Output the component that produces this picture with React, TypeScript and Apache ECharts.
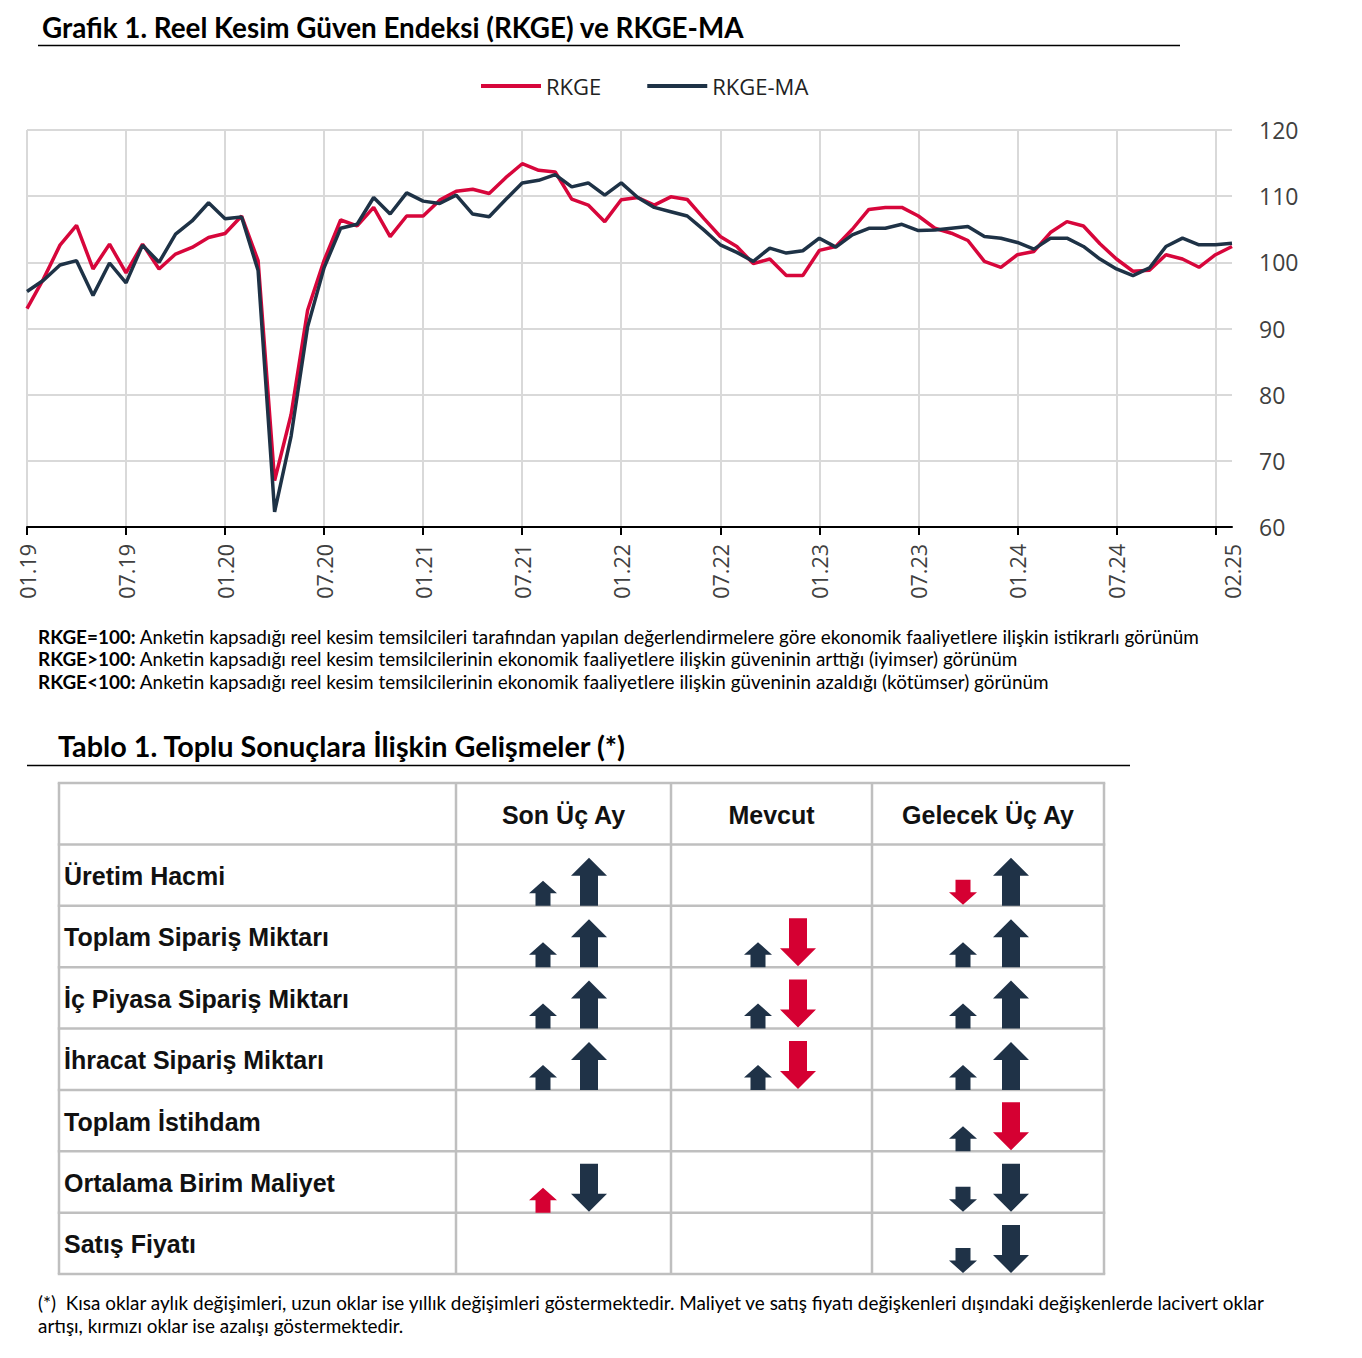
import React, { useEffect, useRef } from "react";
import * as echarts from "echarts";

const months = [
  "01.19","02.19","03.19","04.19","05.19","06.19","07.19","08.19","09.19","10.19","11.19","12.19",
  "01.20","02.20","03.20","04.20","05.20","06.20","07.20","08.20","09.20","10.20","11.20","12.20",
  "01.21","02.21","03.21","04.21","05.21","06.21","07.21","08.21","09.21","10.21","11.21","12.21",
  "01.22","02.22","03.22","04.22","05.22","06.22","07.22","08.22","09.22","10.22","11.22","12.22",
  "01.23","02.23","03.23","04.23","05.23","06.23","07.23","08.23","09.23","10.23","11.23","12.23",
  "01.24","02.24","03.24","04.24","05.24","06.24","07.24","08.24","09.24","10.24","11.24","12.24",
  "01.25","02.25",
];

const rkge = [
  93.0, 97.5, 102.6, 105.6, 99.0, 102.75, 98.4, 102.75, 99.0, 101.25, 102.25, 103.75,
  104.35, 107.0, 100.25, 67.0, 77.0, 92.75, 100.3, 106.4, 105.5, 108.3, 103.9, 107.0,
  107.0, 109.4, 110.75, 111.05, 110.4, 112.8, 114.9, 113.9, 113.65, 109.55, 108.65, 106.15,
  109.45, 109.8, 108.65, 109.9, 109.5, 106.65, 103.9, 102.4, 99.8, 100.5, 98.0, 98.0,
  101.8, 102.4, 105.0, 108.0, 108.3, 108.3, 107.0, 105.15, 104.4, 103.3, 100.15, 99.25,
  101.15, 101.65, 104.5, 106.15, 105.5, 102.8, 100.5, 98.65, 98.8, 101.15, 100.5, 99.25,
  101.15, 102.4,
];

const rkgeMa = [
  95.6, 97.3, 99.6, 100.25, 95.0, 99.9, 96.9, 102.6, 100.0, 104.25, 106.25, 109.0,
  106.6, 106.85, 98.75, 62.3, 73.75, 90.25, 99.2, 105.15, 105.75, 109.8, 107.3, 110.5,
  109.25, 108.9, 110.15, 107.3, 106.9, 109.5, 112.0, 112.4, 113.25, 111.4, 112.0, 110.15,
  112.0, 109.8, 108.3, 107.65, 107.0, 104.9, 102.65, 101.5, 100.15, 102.15, 101.4, 101.75,
  103.65, 102.3, 104.15, 105.15, 105.15, 105.75, 104.8, 104.9, 105.15, 105.4, 103.9, 103.65,
  103.0, 102.0, 103.65, 103.65, 102.4, 100.5, 99.0, 98.0, 99.15, 102.4, 103.65, 102.65,
  102.65, 102.9,
];

const seriesNames = ["RKGE", "RKGE-MA"];

const chartTitle = "Grafik 1. Reel Kesim Güven Endeksi (RKGE) ve RKGE-MA";
const notes = [
  ["RKGE=100:", " Anketin kapsadığı reel kesim temsilcileri tarafından yapılan değerlendirmelere göre ekonomik faaliyetlere ilişkin istikrarlı görünüm"],
  ["RKGE>100:", " Anketin kapsadığı reel kesim temsilcilerinin ekonomik faaliyetlere ilişkin güveninin arttığı (iyimser) görünüm"],
  ["RKGE<100:", " Anketin kapsadığı reel kesim temsilcilerinin ekonomik faaliyetlere ilişkin güveninin azaldığı (kötümser) görünüm"],
];

const tableTitle = "Tablo 1. Toplu Sonuçlara İlişkin Gelişmeler (*)";
const tableColumns = ["Son Üç Ay", "Mevcut", "Gelecek Üç Ay"];
const tableRows = [
  "Üretim Hacmi",
  "Toplam Sipariş Miktarı",
  "İç Piyasa Sipariş Miktarı",
  "İhracat Sipariş Miktarı",
  "Toplam İstihdam",
  "Ortalama Birim Maliyet",
  "Satış Fiyatı",
];
// [short arrow, long arrow]; U/D = up/down, N/R = navy/red
const sonUcAy = [["UN", "UN"], ["UN", "UN"], ["UN", "UN"], ["UN", "UN"], null, ["UR", "DN"], null];
const mevcut = [null, ["UN", "DR"], ["UN", "DR"], ["UN", "DR"], null, null, null];
const gelecekUcAy = [["DR", "UN"], ["UN", "UN"], ["UN", "UN"], ["UN", "UN"], ["UN", "DR"], ["DN", "DN"], ["DN", "DN"]];
const tableArrows = [sonUcAy, mevcut, gelecekUcAy];

const footnote = [
  "(*)  Kısa oklar aylık değişimleri, uzun oklar ise yıllık değişimleri göstermektedir. Maliyet ve satış fiyatı değişkenleri dışındaki değişkenlerde lacivert oklar",
  "artışı, kırmızı oklar ise azalışı göstermektedir.",
];

const RED = "#d7063b";
const NAVY = "#1e3246";
const ARROW_RED = "#d50032";
const ARROW_NAVY = "#1f3247";
const CALIBRI = "Lato, 'Open Sans', sans-serif";
const ARIAL = "'Liberation Sans', Arial, sans-serif";

function text(x: number, y: number, t: string, o: any = {}) {
  const align = o.align || "left";
  return {
    type: "text",
    x,
    y,
    silent: true,
    style: {
      text: t,
      fill: o.fill || "#000",
      fontSize: o.fontSize || 17,
      fontFamily: o.fontFamily || CALIBRI,
      fontWeight: o.fontWeight || "normal",
      align,
      textAlign: align,
      verticalAlign: "middle",
      textVerticalAlign: "middle",
      rich: o.rich,
    },
  };
}

function hline(x1: number, x2: number, y: number, stroke: string, lw: number) {
  return { type: "line", silent: true, shape: { x1, y1: y, x2, y2: y }, style: { stroke, lineWidth: lw } };
}
function vline(x: number, y1: number, y2: number, stroke: string, lw: number) {
  return { type: "line", silent: true, shape: { x1: x, y1, x2: x, y2 }, style: { stroke, lineWidth: lw } };
}

function arrow(code: string, cx: number, rowBottom: number, big: boolean) {
  const H = big ? 48 : 25;
  const h = big ? 18 : 12.5;
  const W = big ? 36 : 28;
  const w = big ? 18 : 15;
  const up = code[0] === "U";
  const fill = code[1] === "R" ? ARROW_RED : ARROW_NAVY;
  let pts: number[][];
  if (up) {
    const b = rowBottom;
    const t = b - H;
    pts = [
      [cx - w / 2, b], [cx - w / 2, t + h], [cx - W / 2, t + h], [cx, t],
      [cx + W / 2, t + h], [cx + w / 2, t + h], [cx + w / 2, b],
    ];
  } else {
    const b = rowBottom - 1;
    const t = b - H;
    pts = [
      [cx - w / 2, t], [cx - w / 2, b - h], [cx - W / 2, b - h], [cx, b],
      [cx + W / 2, b - h], [cx + w / 2, b - h], [cx + w / 2, t],
    ];
  }
  return { type: "polygon", silent: true, shape: { points: pts }, style: { fill } };
}

function buildGraphics() {
  const els: any[] = [];
  // Chart title
  els.push(text(42, 27, chartTitle, { fontSize: 27.8, fontWeight: "bold" }));
  els.push(hline(38, 1180, 45.5, "#000", 1.5));
  // Notes
  const noteY = [636, 658.5, 681];
  notes.forEach((n, i) => {
    els.push(text(38, noteY[i], `{b|${n[0]}}${n[1]}`, {
      fontSize: 18.9,
      rich: { b: { fontWeight: "bold", fontSize: 18.9, fontFamily: CALIBRI, fill: "#000" } },
    }));
  });
  // Table title
  els.push(text(58, 746, tableTitle, { fontSize: 28.8, fontWeight: "bold" }));
  els.push(hline(27, 1130, 765.5, "#000", 1.5));
  // Table grid
  const colX = [59, 456, 671, 872, 1104];
  const top = 783;
  const rowH = 61.375;
  const nLines = tableRows.length + 2;
  const bottom = top + rowH * (tableRows.length + 1);
  for (let r = 0; r < nLines; r++) {
    els.push(hline(colX[0] - 1.25, colX[4] + 1.25, top + r * rowH, "#bfbfbf", 2.5));
  }
  colX.forEach((x) => els.push(vline(x, top, bottom, "#bfbfbf", 2.5)));
  // Header
  tableColumns.forEach((c, i) => {
    els.push(text((colX[i + 1] + colX[i + 2]) / 2, top + rowH / 2 + 1, c, {
      fontSize: 25, fontWeight: "bold", fontFamily: ARIAL, align: "center", fill: "#111",
    }));
  });
  // Rows
  const shortX = [543, 758, 963];
  const longX = [589, 798, 1011];
  tableRows.forEach((r, i) => {
    const rTop = top + rowH * (i + 1);
    els.push(text(64, rTop + rowH / 2 + 1, r, { fontSize: 25, fontWeight: "bold", fontFamily: ARIAL, fill: "#111" }));
    tableArrows.forEach((col, c) => {
      const a = col[i];
      if (!a) return;
      const rb = rTop + rowH;
      els.push(arrow(a[0], shortX[c], rb, false));
      els.push(arrow(a[1], longX[c], rb, true));
    });
  });
  // Footnote
  els.push(text(38, 1302, footnote[0], { fontSize: 18.9 }));
  els.push(text(38, 1325, footnote[1], { fontSize: 18.9 }));
  return els;
}

function buildOption() {
  const every6 = (i: number) => i % 6 === 0;
  return {
    animation: false,
    backgroundColor: "#fff",
    legend: {
      left: 476,
      top: 70,
      icon: "rect",
      itemWidth: 60,
      itemHeight: 4,
      itemGap: 46,
      data: seriesNames,
      textStyle: { fontSize: 22, fontFamily: "'Open Sans', sans-serif", color: "#222" },
    },
    grid: { left: 27, top: 130, width: 1205, height: 397, containLabel: false },
    xAxis: {
      type: "category",
      data: months,
      boundaryGap: false,
      axisLine: { show: true, lineStyle: { color: "#000", width: 2 } },
      axisTick: { show: true, interval: every6, length: 8, lineStyle: { color: "#000", width: 2 } },
      splitLine: { show: true, interval: every6, lineStyle: { color: "#d9d9d9", width: 2 } },
      axisLabel: {
        interval: (i: number) => (i % 6 === 0 && i < 72) || i === months.length - 1,
        rotate: 90,
        margin: 17,
        fontSize: 21.5,
        fontFamily: "'Open Sans', sans-serif",
        color: "#404040",
      },
    },
    yAxis: {
      type: "value",
      position: "right",
      min: 60,
      max: 120,
      interval: 10,
      axisLine: { show: false },
      axisTick: { show: false },
      splitLine: { show: true, lineStyle: { color: "#d9d9d9", width: 2 } },
      axisLabel: {
        margin: 27,
        fontSize: 23,
        fontFamily: "'Open Sans', sans-serif",
        color: "#404040",
      },
    },
    series: [
      {
        name: seriesNames[0],
        type: "line",
        data: rkge,
        symbol: "none",
        lineStyle: { color: RED, width: 3.5 },
        itemStyle: { color: RED },
        z: 2,
      },
      {
        name: seriesNames[1],
        type: "line",
        data: rkgeMa,
        symbol: "none",
        lineStyle: { color: NAVY, width: 3.5 },
        itemStyle: { color: NAVY },
        z: 3,
      },
    ],
    graphic: { elements: buildGraphics() },
  };
}

export default function App() {
  const ref = useRef<HTMLDivElement>(null);
  useEffect(() => {
    document.body.style.margin = "0";
    const chart = echarts.init(ref.current as HTMLDivElement, null, { renderer: "svg" });
    chart.setOption(buildOption() as any);
    return () => chart.dispose();
  }, []);
  return <div ref={ref} style={{ width: 1362, height: 1358, background: "#fff" }} />;
}
